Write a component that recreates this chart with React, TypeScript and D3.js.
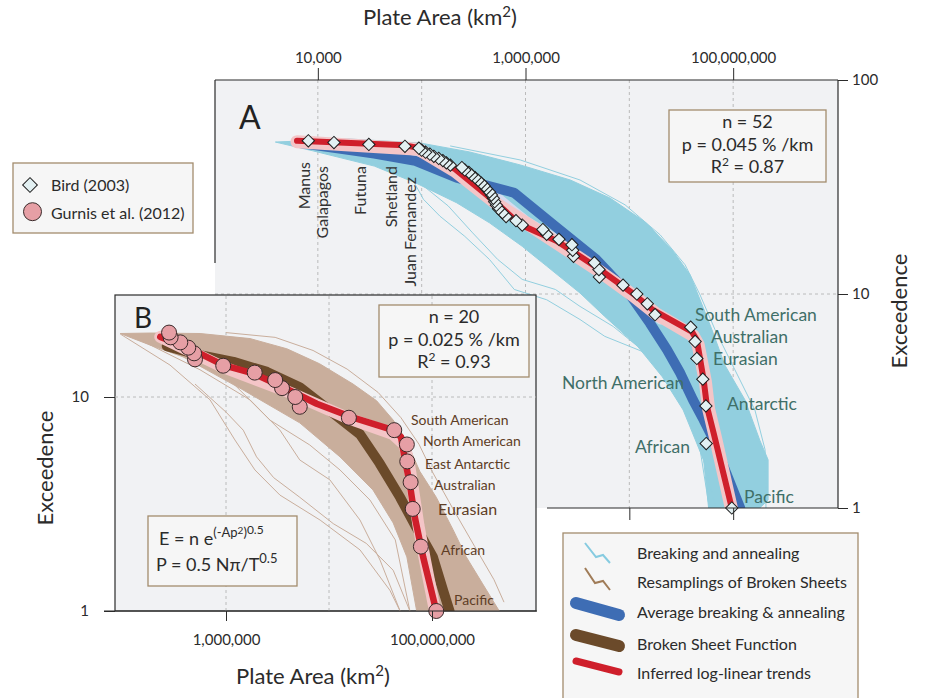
import React, { useEffect, useRef } from 'react';
import * as d3 from 'd3';

type Pt = [number, number];

const FONT = "Lato, 'Open Sans', sans-serif";

// Bird (2003): plate areas (km2), largest first; exceedence = rank
const birdAreas = [
  9.7e7, 5.5e7, 5.46e7, 5.1e7, 4.47e7, 4.3e7, 3.9e7, 1.77e7, 1.49e7, 1.18e7,
  8.7e6, 5.15e6, 5.1e6, 4.6e6, 2.9e6, 2.85e6, 2.8e6, 2.1e6, 1.6e6, 1.47e6,
  9.3e5, 8.1e5, 6.5e5, 6.0e5, 5.5e5, 5.25e5, 5.05e5, 4.9e5, 4.7e5, 4.5e5,
  4.2e5, 4.0e5, 3.75e5, 3.5e5, 3.27e5, 3.03e5, 2.85e5, 2.6e5, 2.44e5, 1.89e5,
  1.73e5, 1.6e5, 1.46e5, 1.31e5, 1.2e5, 1.09e5, 1.0e5, 9.4e4, 6.9e4, 3.1e4,
  1.43e4, 8.1e3,
];
const birdBigNames = ['Pacific', 'African', 'Antarctic', 'North American', 'Eurasian', 'Australian', 'South American'];
const birdSmallNames = ['Juan Fernandez', 'Shetland', 'Futuna', 'Galapagos', 'Manus'];

// Gurnis et al. (2012): plate areas (km2), largest first
const gurnisAreas = [
  1.1e8, 7.8e7, 6.5e7, 6.2e7, 5.75e7, 5.7e7, 4.3e7, 1.56e7, 5.2e6, 4.7e6,
  3.5e6, 3.0e6, 1.9e6, 9.4e5, 5.0e5, 4.9e5, 4.3e5, 3.6e5, 2.9e5, 2.8e5,
];
const gurnisNames = ['Pacific', 'African', 'Eurasian', 'Australian', 'East Antarctic', 'North American', 'South American'];

// breaking and annealing runs: dense envelope + a few stray runs, [area, exceedence]
const breakingUpper: Pt[] = [
  [3.9e3, 51.3], [2.0e4, 53], [9.6e4, 50.8], [2.9e5, 46.1], [8.9e5, 40.1], [2.7e6, 34.1],
  [6.5e6, 28.1], [1.42e7, 21.7], [2.58e7, 16.1], [3.84e7, 12.3], [4.8e7, 9.4], [6.25e7, 6.8],
  [8.3e7, 4.66], [1.3e8, 3.2], [1.8e8, 2.08], [2.17e8, 1.68], [2.17e8, 1.09], [1.8e8, 1],
];
const breakingLower: Pt[] = [
  [3.9e3, 51.3], [8.9e3, 46.7], [3.5e4, 39.6], [8.7e4, 33.1], [2.17e5, 26.7], [4.5e5, 21.5],
  [9.3e5, 16.7], [1.6e6, 13.5], [3.35e6, 10.1], [5.8e6, 7.85], [1.2e7, 5.7], [2.08e7, 4.1],
  [3.3e7, 2.87], [5.2e7, 1.67], [5.8e7, 1],
];
const breakingStrays: Pt[][] = [
  [[7.2e4, 38.3], [1.04e5, 27.7], [1.5e5, 23.1], [2.6e5, 18.6], [4.5e5, 14.5], [7.8e5, 10.5], [1.6e6, 9.4],
    [3.35e6, 7.6], [5.8e6, 6.34], [1.45e7, 5.3], [2.28e7, 4.1], [3.6e7, 2.87], [5.2e7, 1.67], [6.8e7, 1]],
  [[1.04e5, 32], [1.8e5, 25.8], [3.1e5, 19.3], [5.4e5, 14.5], [9.3e5, 11.7], [1.94e6, 10.5], [3.35e6, 8.75],
    [7.0e6, 7.05], [1.2e7, 5.7], [2.08e7, 4.6], [3.3e7, 3.44], [4.7e7, 2.0], [5.9e7, 1]],
  [[1.88e5, 49.2], [8.9e5, 42.3], [3.35e6, 34.1], [9.1e6, 26.1], [1.98e7, 18.9], [3.44e7, 13.7], [4.8e7, 9.9],
    [6.7e7, 6.8], [1.04e8, 4.42], [1.62e8, 2.87], [2.03e8, 1.87], [2.07e8, 1]],
];
const avgBreaking: Pt[] = [
  [6.3e3, 51], [3.5e4, 45.3], [8.7e4, 41.9], [2.17e5, 35], [7.8e5, 29.7], [1.94e6, 20.7], [4.8e6, 14.5],
  [1.05e7, 9.7], [1.58e7, 7.3], [2.3e7, 5.5], [3.1e7, 4.26], [4.1e7, 3.2], [5.2e7, 2.58], [6.5e7, 2.08],
  [8.1e7, 1.56], [1.17e8, 1.0],
];
const avgHalo: Pt[] = [
  [6.3e3, 51], [3.5e4, 47.5], [1.0e5, 44], [2.2e5, 37], [5.0e5, 29], [1.0e6, 22], [2.2e6, 17.5],
  [5.0e6, 13.5], [1.0e7, 10.3], [2.0e7, 7.6],
];
const trendA: Pt[] = [
  [6.3e3, 52], [6.9e4, 49.5], [9.3e4, 48.2], [2.1e5, 38.3], [5.2e5, 26.7], [8.9e5, 21.1], [2.0e6, 17.7],
  [5.0e6, 13.2], [1.1e7, 10.0], [1.7e7, 8.4], [4.0e7, 6.67], [4.47e7, 6.1], [5.2e7, 3.96], [5.6e7, 2.97],
  [6.5e7, 2.23], [9.7e7, 1.0],
];
const trendABand: Pt[] = [
  [6.3e3, 51.5], [9.3e4, 47.5], [2.1e5, 37.5], [5.2e5, 26.5], [2.0e6, 17.3], [5.0e6, 12.9], [1.1e7, 9.8],
  [1.8e7, 8.1], [4.1e7, 6.4], [4.6e7, 5.8], [5.4e7, 3.9], [5.8e7, 2.9], [6.8e7, 2.1], [9.6e7, 1.0],
];

// resamplings of broken sheets
const brokenUpper: Pt[] = [
  [9.4e4, 19.8], [1.83e5, 19.9], [5.6e5, 19.8], [1.71e6, 18.75], [3.9e6, 16.8], [8.1e6, 14.3],
  [1.71e7, 11.5], [2.9e7, 9.6], [4.2e7, 7.8], [5.6e7, 6.3], [7.6e7, 4.5], [1.1e8, 3.4], [1.6e8, 2.4],
  [2.15e8, 1.79], [3.1e8, 1.34], [4.5e8, 1],
];
const brokenLower: Pt[] = [
  [9.4e4, 19.8], [1.83e5, 17.5], [3.83e5, 15.4], [1.46e6, 10.8], [5.2e6, 7.57], [1.28e7, 5.25],
  [2.67e7, 3.68], [4.2e7, 2.58], [5.7e7, 1.79], [7.1e7, 1],
];
const brokenStrays: Pt[][] = [
  [[1.46e5, 18.5], [5.6e5, 13.4], [1.71e6, 9.7], [3.34e6, 7.0], [5.2e6, 5.08], [1.02e7, 4.1], [2.0e7, 2.66],
    [3.13e7, 1.73], [4.9e7, 1]],
  [[2.86e5, 16.6], [1.09e6, 12.0], [2.67e6, 7.8], [6.5e6, 5.97], [1.28e7, 4.56], [2.5e7, 3.3], [4.4e7, 2.15],
    [6.1e7, 1]],
  [[9.4e4, 19.7], [2.86e5, 14.1], [7.0e5, 9.7], [1.22e6, 6.3], [1.91e6, 4.56], [3.34e6, 3.48], [8.2e6, 2.66],
    [2.0e7, 1.93], [3.9e7, 1.25], [4.9e7, 1]],
  [[5.0e5, 11.5], [1.0e6, 8.5], [1.47e6, 7.0], [1.98e6, 5.25], [2.9e6, 4.2], [5.2e6, 3.4], [1.1e7, 2.56],
    [2.3e7, 2.07], [4.2e7, 1.55], [6.1e7, 1]],
  [[1.0e6, 20], [3.0e6, 19], [7.0e6, 16.5], [1.5e7, 13.5], [3.0e7, 10.5], [5.0e7, 8], [7.5e7, 6],
    [1.0e8, 4.5], [1.6e8, 3.0], [2.6e8, 2.0], [4.0e8, 1.4], [5.0e8, 1.1]],
];
const brokenSheet: Pt[] = [
  [2.66e5, 17.3], [5.6e5, 15.7], [1.18e6, 14.6], [2.5e6, 13.1], [5.2e6, 11.1], [1.1e7, 8.4], [2.0e7, 6.7],
  [3.1e7, 4.9], [4.9e7, 3.4], [7.0e7, 2.47], [1.02e8, 1.79], [1.28e8, 1.25], [1.48e8, 1],
];
const trendB: Pt[] = [
  [2.3e5, 19.1], [4.2e5, 17.1], [9.4e5, 14.1], [1.84e6, 12.9], [3.6e6, 11.1], [7.6e6, 9.3], [1.6e7, 8.1],
  [4.2e7, 7.0], [5.0e7, 6.5], [5.4e7, 5.25], [6.1e7, 3.9], [6.8e7, 2.75], [8.2e7, 1.79], [1.1e8, 1],
];
const trendBBand: Pt[] = [
  [2.3e5, 19.1], [9.4e5, 13.8], [3.6e6, 10.8], [1.6e7, 7.9], [4.2e7, 6.7], [5.4e7, 6.0], [6.0e7, 4.8],
  [6.6e7, 3.6], [7.4e7, 2.5], [8.6e7, 1.7], [1.07e8, 1],
];

const topTicks = [1e4, 1e6, 1e8];
const gridA = [1e4, 1e5, 1e6, 1e7, 1e8];
const bottomTicksA = [1e7, 1e8];
const exTicksA = [1, 10, 100];
const bottomTicksB = [1e6, 1e8];
const gridB = [1e6, 1e7, 1e8];
const exTicksB = [1, 10];
const legendItems = [
  'Breaking and annealing',
  'Resamplings of Broken Sheets',
  'Average breaking & annealing',
  'Broken Sheet Function',
  'Inferred log-linear trends',
];

// label placement (pixels)
const bigLabelPosA: Record<string, Pt> = {
  'South American': [695, 321], Australian: [711, 343], Eurasian: [713, 365], 'North American': [562, 389],
  Antarctic: [727, 410], African: [635, 453], Pacific: [744, 503],
};
const smallLabelPosA: Record<string, Pt> = {
  Manus: [310, 162], Galapagos: [328, 166], Futuna: [366, 166], Shetland: [397, 166], 'Juan Fernandez': [416, 177],
};
const labelPosB: Record<string, Pt> = {
  'South American': [411, 425], 'North American': [423, 446], 'East Antarctic': [425, 469], Australian: [434, 490],
  Eurasian: [438, 515], African: [441, 555], Pacific: [454, 605],
};

const LIGHT_BLUE = '#92cfdf';
const BLUE = '#3e6db4';
const RED = '#cf1f2b';
const PINK = '#f4c5c7';
const BROWN = '#6b4a2a';
const TAN = '#c9ae9c';
const BG = '#f1f2f4';
const INK = '#2b2b2b';
const BOX = '#a38c6d';

const App = () => {
  const chartRef = useRef<SVGSVGElement>(null);

  useEffect(() => {
    const svg = d3.select(chartRef.current);
    svg.selectAll('*').remove();
    svg.attr('font-family', FONT);

    const defs = svg.append('defs');
    defs.append('clipPath').attr('id', 'clipA').append('rect')
      .attr('x', 215).attr('y', 80).attr('width', 623).attr('height', 428);
    defs.append('clipPath').attr('id', 'clipB').append('rect')
      .attr('x', 115).attr('y', 295).attr('width', 421).attr('height', 316);

    const styleAxis = (g: any, size: number) => {
      g.select('.domain').remove();
      g.attr('font-family', FONT).attr('font-size', size);
      g.selectAll('line').attr('stroke', INK);
      g.selectAll('text').attr('fill', INK);
    };

    const r2Text = (g: any, x: number, y: number, val: string) => {
      const t = g.append('text').attr('x', x).attr('y', y).attr('text-anchor', 'middle')
        .attr('font-size', 18).attr('fill', INK);
      t.append('tspan').text('R');
      t.append('tspan').attr('dy', -7).attr('font-size', 12).text('2');
      t.append('tspan').attr('dy', 7).text(` = ${val}`);
    };

    const statsBox = (g: any, x: number, y: number, w: number, lines: string[]) => {
      g.append('rect').attr('x', x).attr('y', y).attr('width', w).attr('height', 72)
        .attr('fill', '#f6f6f6').attr('stroke', BOX).attr('stroke-width', 1.3);
      const cx = x + w / 2;
      g.append('text').attr('x', cx).attr('y', y + 18).attr('text-anchor', 'middle')
        .attr('font-size', 18).attr('fill', INK).text(lines[0]);
      g.append('text').attr('x', cx).attr('y', y + 41).attr('text-anchor', 'middle')
        .attr('font-size', 18).attr('fill', INK).text(lines[1]);
      r2Text(g, cx, y + 63, lines[2]);
    };

    // ================= Panel A =================
    const xA = d3.scaleLog().domain([1e3, 1e9]).range([214, 837]);
    const yA = d3.scaleLog().domain([1, 100]).range([508, 80]);
    const lineA = d3.line<Pt>().x(d => xA(d[0])).y(d => yA(d[1]));

    const a = svg.append('g');
    a.append('rect').attr('x', 215).attr('y', 80).attr('width', 623).attr('height', 428).attr('fill', BG);

    a.selectAll('.vgrid').data(gridA).join('line')
      .attr('x1', d => xA(d)).attr('x2', d => xA(d)).attr('y1', 80).attr('y2', 508)
      .attr('stroke', '#b4b4b4').attr('stroke-dasharray', '3,3').attr('stroke-width', 0.9);
    a.append('line').attr('x1', 215).attr('x2', 838).attr('y1', yA(10)).attr('y2', yA(10))
      .attr('stroke', '#b4b4b4').attr('stroke-dasharray', '3,3').attr('stroke-width', 0.9);

    const plotA = a.append('g').attr('clip-path', 'url(#clipA)');
    plotA.append('path')
      .attr('d', lineA([...breakingUpper, ...breakingLower.slice().reverse()]) + 'Z')
      .attr('fill', LIGHT_BLUE).attr('stroke', LIGHT_BLUE).attr('stroke-width', 1);
    plotA.selectAll('.stray').data(breakingStrays).join('path')
      .attr('d', d => lineA(d)).attr('fill', 'none').attr('stroke', LIGHT_BLUE).attr('stroke-width', 1);
    plotA.append('path').attr('d', lineA(avgHalo)).attr('fill', 'none')
      .attr('stroke', '#d4dbef').attr('stroke-width', 10).attr('stroke-linecap', 'round').attr('stroke-linejoin', 'round');
    plotA.append('path').attr('d', lineA(avgBreaking)).attr('fill', 'none')
      .attr('stroke', BLUE).attr('stroke-width', 10).attr('stroke-linecap', 'round').attr('stroke-linejoin', 'round');
    plotA.append('path').attr('d', lineA(trendABand)).attr('fill', 'none')
      .attr('stroke', PINK).attr('stroke-width', 13).attr('stroke-linecap', 'round').attr('stroke-linejoin', 'round');
    plotA.append('path').attr('d', lineA(trendA)).attr('fill', 'none')
      .attr('stroke', RED).attr('stroke-width', 6).attr('stroke-linecap', 'round').attr('stroke-linejoin', 'round');

    const diamond = d3.symbol().type(d3.symbolSquare).size(76);
    a.selectAll('.bird').data(birdAreas).join('path')
      .attr('d', diamond)
      .attr('transform', (d, i) => `translate(${xA(d)},${yA(i + 1)}) rotate(45)`)
      .attr('fill', '#e2f0f2').attr('stroke', '#1c1c1c').attr('stroke-width', 1);

    // borders and axes of A
    const border = a.append('g').attr('stroke', INK).attr('stroke-width', 1.2);
    border.append('line').attr('x1', 215).attr('x2', 838).attr('y1', 80).attr('y2', 80);
    border.append('line').attr('x1', 838).attr('x2', 838).attr('y1', 80).attr('y2', 508);
    border.append('line').attr('x1', 215).attr('x2', 215).attr('y1', 80).attr('y2', 263);
    border.append('line').attr('x1', 547).attr('x2', 838).attr('y1', 508).attr('y2', 508);

    const axTop = a.append('g').attr('transform', 'translate(0,80)')
      .call(d3.axisTop(xA).tickValues(topTicks).tickFormat(d3.format(',')).tickSize(12).tickPadding(5));
    styleAxis(axTop, 15);
    const axRight = a.append('g').attr('transform', 'translate(838,0)')
      .call(d3.axisRight(yA).tickValues(exTicksA).tickFormat(d3.format('d')).tickSize(10).tickPadding(4));
    styleAxis(axRight, 15);
    const axBottomA = a.append('g').attr('transform', 'translate(0,508)')
      .call(d3.axisBottom(xA).tickValues(bottomTicksA).tickFormat(() => '').tickSize(12));
    styleAxis(axBottomA, 15);

    const topTitle = a.append('text').attr('x', 440).attr('y', 25).attr('text-anchor', 'middle')
      .attr('font-size', 22).attr('fill', INK);
    topTitle.append('tspan').text('Plate Area (km');
    topTitle.append('tspan').attr('dy', -8).attr('font-size', 15).text('2');
    topTitle.append('tspan').attr('dy', 8).text(')');

    a.append('text').attr('transform', 'translate(907,311) rotate(-90)').attr('text-anchor', 'middle')
      .attr('font-size', 22).attr('fill', INK).text('Exceedence');

    a.append('text').attr('x', 239).attr('y', 129).attr('font-size', 32).attr('fill', '#222').text('A');

    birdBigNames.forEach(name => {
      const [x, y] = bigLabelPosA[name];
      a.append('text').attr('x', x).attr('y', y).attr('font-size', 17.5).attr('fill', '#3f6f68').text(name);
    });
    birdSmallNames.forEach(name => {
      const [x, y] = smallLabelPosA[name];
      a.append('text').attr('transform', `translate(${x},${y}) rotate(-90)`).attr('text-anchor', 'end')
        .attr('font-size', 16).attr('fill', '#333').text(name);
    });

    statsBox(a, 669, 110, 157, ['n = 52', 'p = 0.045 % /km', '0.87']);

    // ================= Panel B =================
    const xB = d3.scaleLog().domain([1e6, 1e8]).range([226, 432]);
    const yB = d3.scaleLog().domain([1, 10]).range([611, 397]);
    const lineB = d3.line<Pt>().x(d => xB(d[0])).y(d => yB(d[1]));

    const b = svg.append('g');
    b.append('rect').attr('x', 115).attr('y', 295).attr('width', 421).attr('height', 316)
      .attr('fill', BG).attr('stroke', INK).attr('stroke-width', 1.2);

    b.selectAll('.vgrid').data(gridB).join('line')
      .attr('x1', d => xB(d)).attr('x2', d => xB(d)).attr('y1', 296).attr('y2', 611)
      .attr('stroke', '#b4b4b4').attr('stroke-dasharray', '3,3').attr('stroke-width', 0.9);
    b.append('line').attr('x1', 115).attr('x2', 536).attr('y1', yB(10)).attr('y2', yB(10))
      .attr('stroke', '#b4b4b4').attr('stroke-dasharray', '3,3').attr('stroke-width', 0.9);

    const plotB = b.append('g').attr('clip-path', 'url(#clipB)');
    plotB.append('path')
      .attr('d', lineB([...brokenUpper, ...brokenLower.slice().reverse()]) + 'Z')
      .attr('fill', TAN).attr('stroke', TAN).attr('stroke-width', 1);
    plotB.selectAll('.stray').data(brokenStrays).join('path')
      .attr('d', d => lineB(d)).attr('fill', 'none').attr('stroke', TAN).attr('stroke-width', 1);
    plotB.append('path').attr('d', lineB(brokenSheet)).attr('fill', 'none')
      .attr('stroke', BROWN).attr('stroke-width', 10).attr('stroke-linecap', 'round').attr('stroke-linejoin', 'round');
    plotB.append('path').attr('d', lineB(trendBBand)).attr('fill', 'none')
      .attr('stroke', PINK).attr('stroke-width', 12).attr('stroke-linecap', 'round').attr('stroke-linejoin', 'round');
    plotB.append('path').attr('d', lineB(trendB)).attr('fill', 'none')
      .attr('stroke', RED).attr('stroke-width', 6.5).attr('stroke-linecap', 'round').attr('stroke-linejoin', 'round');

    b.selectAll('.gurnis').data(gurnisAreas).join('circle')
      .attr('cx', d => xB(d)).attr('cy', (d, i) => yB(i + 1)).attr('r', 7.5)
      .attr('fill', '#e69fa5').attr('stroke', '#3a2a2a').attr('stroke-width', 1);

    const axLeftB = b.append('g').attr('transform', 'translate(115,0)')
      .call(d3.axisLeft(yB).tickValues(exTicksB).tickFormat(d3.format('d')).tickSize(11).tickPadding(15));
    styleAxis(axLeftB, 15);
    const axBottomB = b.append('g').attr('transform', 'translate(0,611)')
      .call(d3.axisBottom(xB).tickValues(bottomTicksB).tickFormat(d3.format(',')).tickSize(10).tickPadding(13));
    styleAxis(axBottomB, 15);
    b.append('line').attr('x1', 104).attr('x2', 537).attr('y1', 611).attr('y2', 611)
      .attr('stroke', INK).attr('stroke-width', 1.2);

    const bottomTitle = b.append('text').attr('x', 313).attr('y', 684).attr('text-anchor', 'middle')
      .attr('font-size', 22).attr('fill', INK);
    bottomTitle.append('tspan').text('Plate Area (km');
    bottomTitle.append('tspan').attr('dy', -8).attr('font-size', 15).text('2');
    bottomTitle.append('tspan').attr('dy', 8).text(')');

    b.append('text').attr('transform', 'translate(53,468) rotate(-90)').attr('text-anchor', 'middle')
      .attr('font-size', 22).attr('fill', INK).text('Exceedence');

    b.append('text').attr('x', 134).attr('y', 328).attr('font-size', 28).attr('fill', '#222').text('B');

    gurnisNames.forEach(name => {
      const [x, y] = labelPosB[name];
      b.append('text').attr('x', x).attr('y', y).attr('font-size', name === 'Eurasian' ? 16 : 14)
        .attr('fill', '#5e3d25').text(name);
    });

    statsBox(b, 379, 305, 150, ['n = 20', 'p = 0.025 % /km', '0.93']);

    // formula box
    b.append('rect').attr('x', 148).attr('y', 516).attr('width', 149).attr('height', 70)
      .attr('fill', '#f6f6f6').attr('stroke', BOX).attr('stroke-width', 1.3);
    const f1 = b.append('text').attr('x', 159).attr('y', 545).attr('font-size', 18).attr('fill', INK);
    f1.append('tspan').text('E = n e');
    f1.append('tspan').attr('dy', -8).attr('font-size', 13).text('(-Ap');
    f1.append('tspan').attr('dy', -3).attr('font-size', 10).text('2');
    f1.append('tspan').attr('dy', 3).attr('font-size', 13).text(')');
    f1.append('tspan').attr('dy', -3).attr('font-size', 12).text('0.5');
    const f2 = b.append('text').attr('x', 156).attr('y', 571).attr('font-size', 18).attr('fill', INK);
    f2.append('tspan').text('P = 0.5 N\u03c0/T');
    f2.append('tspan').attr('dy', -8).attr('font-size', 13).text('0.5');

    // ================= Legends =================
    const lg1 = svg.append('g');
    lg1.append('rect').attr('x', 13).attr('y', 163).attr('width', 180).attr('height', 70)
      .attr('fill', '#f6f6f6').attr('stroke', BOX).attr('stroke-width', 1.3);
    lg1.append('path').attr('d', d3.symbol().type(d3.symbolSquare).size(108)())
      .attr('transform', 'translate(30,185) rotate(45)')
      .attr('fill', '#e2f0f2').attr('stroke', '#1c1c1c').attr('stroke-width', 1);
    lg1.append('circle').attr('cx', 32.5).attr('cy', 211.7).attr('r', 9)
      .attr('fill', '#e69fa5').attr('stroke', '#3a2a2a').attr('stroke-width', 1);
    lg1.append('text').attr('x', 51).attr('y', 191).attr('font-size', 16).attr('fill', INK).text('Bird (2003)');
    lg1.append('text').attr('x', 51).attr('y', 219).attr('font-size', 16).attr('fill', INK).text('Gurnis et al. (2012)');

    const lg2 = svg.append('g');
    lg2.append('rect').attr('x', 563).attr('y', 533).attr('width', 295).attr('height', 180)
      .attr('fill', '#f6f6f6').attr('stroke', BOX).attr('stroke-width', 1.3);
    const zig = d3.line<Pt>();
    lg2.append('path').attr('d', zig([[585, 543], [596, 557], [603, 555], [610, 563]]))
      .attr('fill', 'none').attr('stroke', '#86cbe0').attr('stroke-width', 2);
    lg2.append('path').attr('d', zig([[585, 568], [595, 583], [603, 581], [610, 590]]))
      .attr('fill', 'none').attr('stroke', '#a07c58').attr('stroke-width', 2);
    lg2.append('path').attr('d', zig([[576, 603], [619, 615]]))
      .attr('stroke', BLUE).attr('stroke-width', 12).attr('stroke-linecap', 'round');
    lg2.append('path').attr('d', zig([[576, 635], [619, 646]]))
      .attr('stroke', BROWN).attr('stroke-width', 12).attr('stroke-linecap', 'round');
    lg2.append('path').attr('d', zig([[576, 661], [619, 672]]))
      .attr('stroke', RED).attr('stroke-width', 7).attr('stroke-linecap', 'round');
    const lgY = [559, 588, 618, 650, 679];
    legendItems.forEach((label, i) => {
      lg2.append('text').attr('x', 637).attr('y', lgY[i]).attr('font-size', 16).attr('fill', INK).text(label);
    });

    return () => {
      svg.selectAll('*').remove();
    };
  }, []);

  return (
    <svg
      ref={chartRef}
      width={926}
      height={698}
      style={{ position: 'absolute', left: 0, top: 0, background: '#fff' }}
    />
  );
};

export default App;
